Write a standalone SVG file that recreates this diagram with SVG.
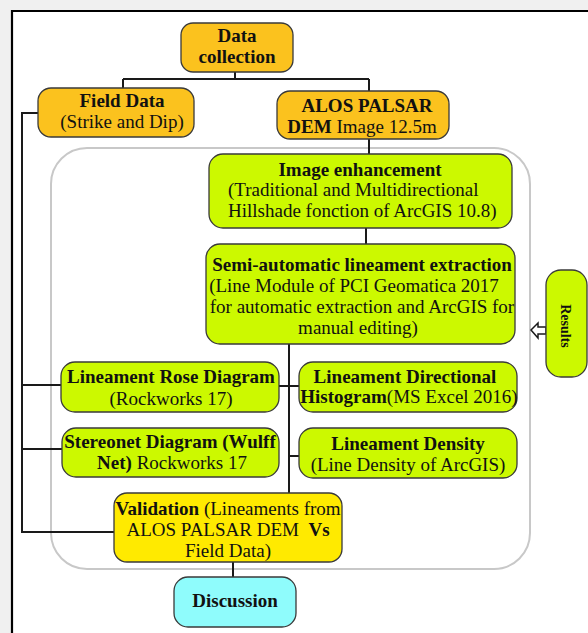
<svg xmlns="http://www.w3.org/2000/svg" width="588" height="633" viewBox="0 0 588 633">
<style>
.box{stroke:#3a3a3a;stroke-width:1.3}
.org{fill:#fbc21e}
.grn{fill:#ccf900}
.yel{fill:#ffea00}
.cyn{fill:#8ffcfc}
.t{font-family:"Liberation Serif","Times New Roman",serif;font-size:19px;fill:#111}
.b{font-weight:bold}
.c{text-anchor:middle}
.ln{stroke:#1a1a1a;stroke-width:2;fill:none}
</style>
<rect x="0" y="0" width="588" height="633" fill="#f0f0f0"/>
<rect x="11" y="10" width="577" height="623" fill="#ffffff"/>
<path d="M12 633 V11 H588" fill="none" stroke="#000" stroke-width="2.2"/>
<rect id="container" x="51" y="148" width="479" height="421" rx="36" fill="none" stroke="#c8c8c8" stroke-width="2"/>

<g id="connectors">
<path class="ln" d="M235 72 V79 M123 79 H369 M123 79 V89 M369 79 V91"/>
<path class="ln" d="M369 139 V155"/>
<path class="ln" d="M366 228 V245"/>
<path class="ln" d="M289 344 V493"/>
<path class="ln" d="M279 386 H299"/>
<path class="ln" d="M289 456 H299"/>
<path class="ln" d="M38 113 H22 V532 H114"/>
<path class="ln" d="M22 385 H61"/>
<path class="ln" d="M22 449 H62"/>
<path class="ln" d="M233 562 V577"/>
<polygon points="531,330 538,323 538,327 546,327 546,334 538,334 538,338" fill="#ffffff" stroke="#1a1a1a" stroke-width="1.5"/>
</g>

<g id="data-collection">
<rect class="box org" x="181" y="23" width="112" height="49" rx="12"/>
<text class="t b c" x="237" y="42">Data</text>
<text class="t b c" x="237" y="63">collection</text>
</g>

<g id="field-data">
<rect class="box org" x="38" y="88" width="156" height="49" rx="13"/>
<text class="t b c" x="122" y="107">Field Data</text>
<text class="t c" x="122" y="128">(Strike and Dip)</text>
</g>

<g id="alos">
<rect class="box org" x="277" y="91" width="172" height="48" rx="13"/>
<text class="t b c" x="367" y="112">ALOS PALSAR</text>
<text class="t c" x="362" y="133"><tspan class="b">DEM</tspan> Image 12.5m</text>
</g>

<g id="image-enhancement">
<rect class="box grn" x="209" y="154" width="303" height="74" rx="14"/>
<text class="t b c" x="360" y="176">Image enhancement</text>
<text class="t" x="228" y="196">(Traditional and Multidirectional</text>
<text class="t" x="228" y="217">Hillshade fonction of ArcGIS 10.8)</text>
</g>

<g id="semi-automatic">
<rect class="box grn" x="206" y="244" width="309" height="100" rx="14"/>
<text class="t b c" x="362" y="271">Semi-automatic lineament extraction</text>
<text class="t c" x="354" y="292">(Line Module of PCI Geomatica 2017</text>
<text class="t c" x="362" y="313">for automatic extraction and ArcGIS for</text>
<text class="t c" x="358" y="334">manual editing)</text>
</g>

<g id="results">
<rect class="box grn" x="546" y="270" width="41" height="107" rx="15"/>
<text class="t b c" transform="translate(566,326) rotate(90)" x="0" y="5" style="font-size:14px">Results</text>
</g>

<g id="rose-diagram">
<rect class="box grn" x="61" y="362" width="218" height="50" rx="14"/>
<text class="t b c" x="171" y="383">Lineament Rose Diagram</text>
<text class="t c" x="171" y="405">(Rockworks 17)</text>
</g>

<g id="directional-histogram">
<rect class="box grn" x="299" y="362" width="218" height="50" rx="14"/>
<text class="t b c" x="405" y="383">Lineament Directional</text>
<text class="t c" x="409" y="403"><tspan class="b">Histogram</tspan>(MS Excel 2016)</text>
</g>

<g id="stereonet">
<rect class="box grn" x="62" y="428" width="217" height="49" rx="14"/>
<text class="t b c" x="170" y="448">Stereonet Diagram (Wulff</text>
<text class="t c" x="172" y="469"><tspan class="b">Net)</tspan> Rockworks 17</text>
</g>

<g id="lineament-density">
<rect class="box grn" x="299" y="428" width="218" height="50" rx="14"/>
<text class="t b c" x="408" y="450">Lineament Density</text>
<text class="t c" x="408" y="471">(Line Density of ArcGIS)</text>
</g>

<g id="validation">
<rect class="box yel" x="114" y="493" width="228" height="69" rx="13"/>
<text class="t c" x="228" y="515"><tspan class="b">Validation</tspan> (Lineaments from</text>
<text class="t c" x="228" y="536" xml:space="preserve">ALOS PALSAR DEM  <tspan class="b">Vs</tspan></text>
<text class="t c" x="228" y="557">Field Data)</text>
</g>

<g id="discussion">
<rect class="box cyn" x="174" y="577" width="122" height="50" rx="14"/>
<text class="t b c" x="235" y="607">Discussion</text>
</g>
</svg>
